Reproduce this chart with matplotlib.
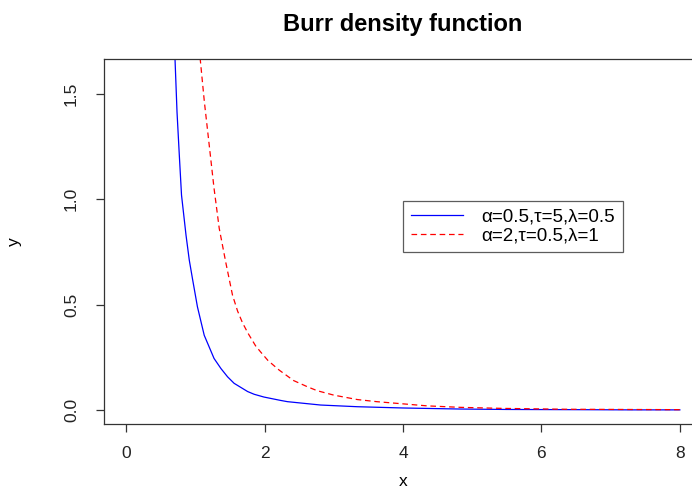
import matplotlib
matplotlib.use("Agg")
from matplotlib import pyplot as plt

#---------------------- DATA
blue_label = "\u03b1=0.5,\u03c4=5,\u03bb=0.5"
red_label = "\u03b1=2,\u03c4=0.5,\u03bb=1"

blue_x = [0.69, 0.706, 0.735, 0.768, 0.80, 0.865, 0.912, 0.96, 1.03, 1.128, 1.27,
          1.37, 1.465, 1.56, 1.755, 1.85, 1.99, 2.23, 2.33, 2.81, 3.34, 4.0, 4.83,
          5.5, 6.5, 7.3, 8.0]
blue_y = [1.78, 1.666, 1.414, 1.21, 1.02, 0.83, 0.712, 0.62, 0.49, 0.355, 0.245,
          0.197, 0.158, 0.127, 0.088, 0.075, 0.062, 0.046, 0.04, 0.024, 0.016, 0.01, 0.005,
          0.003, 0.002, 0.001, 0.001]

red_x = [1.05, 1.07, 1.13, 1.2, 1.27, 1.345, 1.44, 1.537, 1.61, 1.68, 1.76, 1.87, 1.945,
         2.05, 2.21, 2.42, 2.617, 2.76, 3.0, 3.34, 3.62, 4.35, 4.83, 5.45, 6.36, 7.2, 8.0]
red_y = [1.76, 1.666, 1.463, 1.258, 1.052, 0.862, 0.70, 0.545, 0.47, 0.415, 0.365, 0.305, 0.275,
         0.235, 0.19, 0.14, 0.111, 0.092, 0.071, 0.05, 0.04, 0.02, 0.013, 0.008, 0.004, 0.003, 0.002]

x_ticks = [0, 2, 4, 6, 8]
y_ticks = [0.0, 0.5, 1.0, 1.5]

#---------------------- FIGURE
plt.rcParams['font.family'] = ['Liberation Sans', 'DejaVu Sans']

fig = plt.figure(figsize=(6.92, 4.93), dpi=100)
# right edge of the R plot box falls outside the picture (cropped)
ax = fig.add_axes([104 / 692, 1 - 424 / 493, 598 / 692, 365 / 493])

ax.plot(blue_x, blue_y, color='blue', lw=0.9, label=blue_label)
ax.plot(red_x, red_y, color='red', lw=0.9, dashes=(4.5, 3), label=red_label)

ax.set_xlim(-0.32, 8.32)
ax.set_ylim(-0.066, 1.666)

ax.set_xticks(x_ticks)
ax.set_xticklabels([str(t) for t in x_ticks])
ax.set_yticks(y_ticks)
ax.set_yticklabels(['%.1f' % t for t in y_ticks], rotation=90, va='center')
ax.tick_params(direction='out', length=6, width=0.9, color='#333333',
               labelsize=12.5, labelcolor='#222222')
ax.tick_params(axis='x', pad=10)
ax.tick_params(axis='y', pad=12)

for s in ax.spines.values():
    s.set_color('#333333')
    s.set_linewidth(0.9)
ax.spines['right'].set_visible(False)

ax.set_title('Burr density function', fontsize=17, fontweight='bold', pad=20)
ax.set_xlabel('x', fontsize=12.5, labelpad=9)
ax.set_ylabel('y', fontsize=12.5, labelpad=30)

leg = ax.legend(loc='upper left', bbox_to_anchor=(0.5, 0.611), fontsize=13.5,
                frameon=True, fancybox=False, handlelength=2.8, handletextpad=1.0,
                borderpad=0.4, labelspacing=0.1, borderaxespad=0)
leg.get_frame().set_edgecolor('#333333')
leg.get_frame().set_linewidth(0.9)

fig.savefig('out.png', dpi=100)
